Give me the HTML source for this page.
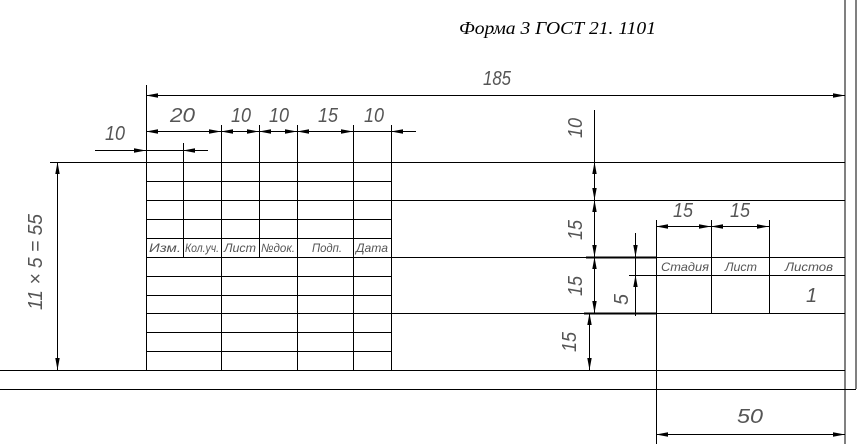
<!DOCTYPE html>
<html><head><meta charset="utf-8"><style>
html,body{margin:0;padding:0;background:#fff;}
svg{display:block;}
.g{font-family:"Liberation Sans",sans-serif;font-style:italic;fill:#555;font-weight:normal;}
</style></head><body>
<svg width="865" height="444" viewBox="0 0 865 444" xmlns="http://www.w3.org/2000/svg">
<defs>
<marker id="a" viewBox="0 0 12 5" refX="12" refY="2.5" markerWidth="12" markerHeight="5" markerUnits="userSpaceOnUse" orient="auto-start-reverse">
<path d="M0,0.3 L12,2.5 L0,4.7 Z" fill="#000"/></marker>
</defs>
<g stroke="#000" stroke-width="1" fill="none">
<line x1="845" y1="0" x2="845" y2="444"/>
<line x1="856" y1="0" x2="856" y2="389"/>
<line x1="0" y1="389.5" x2="856" y2="389.5"/>
<line x1="0" y1="370.5" x2="845" y2="370.5"/>
<line x1="50" y1="162.5" x2="845" y2="162.5"/>
<line x1="146" y1="200.5" x2="845" y2="200.5"/>
<line x1="146" y1="257.5" x2="586" y2="257.5"/>
<line x1="656" y1="257.5" x2="845" y2="257.5"/>
<line x1="146" y1="313.5" x2="584" y2="313.5"/>
<line x1="656" y1="313.5" x2="845" y2="313.5"/>
<line x1="586" y1="257.5" x2="656" y2="257.5" stroke-width="2"/>
<line x1="584" y1="313.5" x2="656" y2="313.5" stroke-width="2"/>
<line x1="146" y1="181.5" x2="391" y2="181.5"/>
<line x1="146" y1="219.5" x2="391" y2="219.5"/>
<line x1="146" y1="238.5" x2="391" y2="238.5"/>
<line x1="146" y1="276.5" x2="391" y2="276.5"/>
<line x1="146" y1="295.5" x2="391" y2="295.5"/>
<line x1="146" y1="332.5" x2="391" y2="332.5"/>
<line x1="146" y1="351.5" x2="391" y2="351.5"/>
<line x1="146.5" y1="85" x2="146.5" y2="370"/>
<line x1="183.5" y1="143" x2="183.5" y2="257"/>
<line x1="221.5" y1="125" x2="221.5" y2="370"/>
<line x1="259.5" y1="125" x2="259.5" y2="257"/>
<line x1="297.5" y1="125" x2="297.5" y2="370"/>
<line x1="353.5" y1="125" x2="353.5" y2="370"/>
<line x1="391.5" y1="125" x2="391.5" y2="370"/>
<line x1="656.5" y1="220" x2="656.5" y2="444"/>
<line x1="711.5" y1="220" x2="711.5" y2="313"/>
<line x1="769.5" y1="220" x2="769.5" y2="313"/>
<line x1="629" y1="275.5" x2="845" y2="275.5"/>
<line x1="146" y1="95.5" x2="845" y2="95.5" marker-start="url(#a)" marker-end="url(#a)"/>
<line x1="146" y1="131.5" x2="221" y2="131.5" marker-start="url(#a)" marker-end="url(#a)"/>
<line x1="221" y1="131.5" x2="259" y2="131.5" marker-start="url(#a)" marker-end="url(#a)"/>
<line x1="259" y1="131.5" x2="297" y2="131.5" marker-start="url(#a)" marker-end="url(#a)"/>
<line x1="297" y1="131.5" x2="353" y2="131.5" marker-start="url(#a)" marker-end="url(#a)"/>
<line x1="353" y1="131.5" x2="391" y2="131.5"/>
<line x1="391" y1="131.5" x2="416" y2="131.5"/>
<line x1="391" y1="131.5" x2="405" y2="131.5" marker-start="url(#a)"/>
<line x1="95" y1="150.5" x2="146" y2="150.5" marker-end="url(#a)"/>
<line x1="146" y1="150.5" x2="208" y2="150.5"/>
<line x1="208" y1="150.5" x2="183" y2="150.5" marker-end="url(#a)"/>
<line x1="57.5" y1="162" x2="57.5" y2="370" marker-start="url(#a)" marker-end="url(#a)"/>
<line x1="594.5" y1="110" x2="594.5" y2="162"/>
<line x1="594.5" y1="162" x2="594.5" y2="200" marker-start="url(#a)" marker-end="url(#a)"/>
<line x1="594.5" y1="200" x2="594.5" y2="257" marker-start="url(#a)" marker-end="url(#a)"/>
<line x1="594.5" y1="257" x2="594.5" y2="313" marker-start="url(#a)" marker-end="url(#a)"/>
<line x1="589.5" y1="313" x2="589.5" y2="370" marker-start="url(#a)" marker-end="url(#a)"/>
<line x1="635.5" y1="233" x2="635.5" y2="257" marker-end="url(#a)"/>
<line x1="635.5" y1="257" x2="635.5" y2="275"/>
<line x1="635.5" y1="300" x2="635.5" y2="275" marker-end="url(#a)"/>
<line x1="635.5" y1="300" x2="635.5" y2="316"/>
<line x1="656" y1="226.5" x2="711" y2="226.5" marker-start="url(#a)" marker-end="url(#a)"/>
<line x1="711" y1="226.5" x2="769" y2="226.5" marker-start="url(#a)" marker-end="url(#a)"/>
<line x1="656" y1="434.5" x2="845" y2="434.5" marker-start="url(#a)" marker-end="url(#a)"/>
</g>
<text x="459" y="34" font-family="Liberation Serif,serif" font-style="italic" font-size="18" fill="#000" textLength="197" lengthAdjust="spacingAndGlyphs">Форма 3 ГОСТ 21. 1101</text>
<g class="g" font-size="20">
<text x="483" y="85" textLength="28" lengthAdjust="spacingAndGlyphs">185</text>
<text x="170" y="122" textLength="25" lengthAdjust="spacingAndGlyphs">20</text>
<text x="231" y="122" textLength="20" lengthAdjust="spacingAndGlyphs">10</text>
<text x="269" y="122" textLength="20" lengthAdjust="spacingAndGlyphs">10</text>
<text x="318" y="122" textLength="20" lengthAdjust="spacingAndGlyphs">15</text>
<text x="364" y="122" textLength="20" lengthAdjust="spacingAndGlyphs">10</text>
<text x="105" y="140" textLength="20" lengthAdjust="spacingAndGlyphs">10</text>
<text x="673" y="217" textLength="20" lengthAdjust="spacingAndGlyphs">15</text>
<text x="730" y="217" textLength="20" lengthAdjust="spacingAndGlyphs">15</text>
<text x="737" y="423" textLength="26" lengthAdjust="spacingAndGlyphs">50</text>
<text x="806" y="302" font-size="20">1</text>
<text transform="translate(42,310) rotate(-90)" textLength="96" lengthAdjust="spacingAndGlyphs">11 × 5 = 55</text>
<text transform="translate(582,138) rotate(-90)" textLength="20" lengthAdjust="spacingAndGlyphs">10</text>
<text transform="translate(582,240) rotate(-90)" textLength="20" lengthAdjust="spacingAndGlyphs">15</text>
<text transform="translate(582,296) rotate(-90)" textLength="20" lengthAdjust="spacingAndGlyphs">15</text>
<text transform="translate(576,352) rotate(-90)" textLength="20" lengthAdjust="spacingAndGlyphs">15</text>
<text transform="translate(628,305) rotate(-90)" textLength="11" lengthAdjust="spacingAndGlyphs">5</text>
</g>
<g class="g" font-size="12">
<text x="149" y="252" textLength="32" lengthAdjust="spacingAndGlyphs">Изм.</text>
<text x="185" y="252" textLength="34" lengthAdjust="spacingAndGlyphs">Кол.уч.</text>
<text x="224" y="252" textLength="32" lengthAdjust="spacingAndGlyphs">Лист</text>
<text x="261" y="252" textLength="34" lengthAdjust="spacingAndGlyphs">№док.</text>
<text x="312" y="252" textLength="30" lengthAdjust="spacingAndGlyphs">Подп.</text>
<text x="356" y="252" textLength="32" lengthAdjust="spacingAndGlyphs">Дата</text>
<text x="661" y="271" textLength="48" lengthAdjust="spacingAndGlyphs">Стадия</text>
<text x="725" y="271" textLength="32" lengthAdjust="spacingAndGlyphs">Лист</text>
<text x="785" y="271" textLength="48" lengthAdjust="spacingAndGlyphs">Листов</text>
</g>
</svg>
</body></html>
